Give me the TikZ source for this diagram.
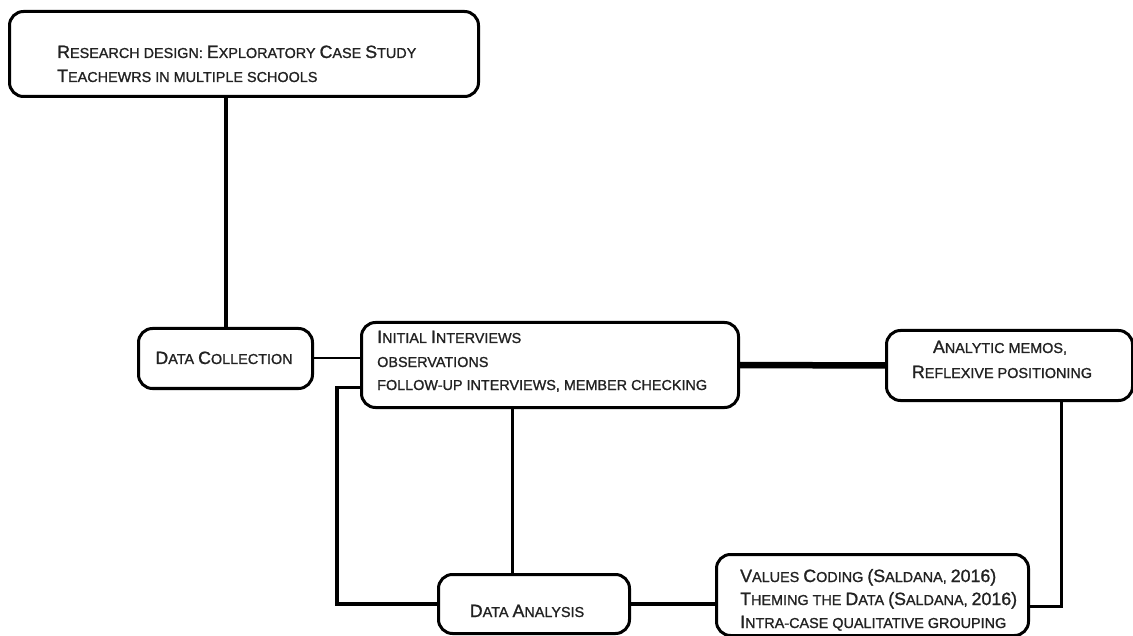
\documentclass[tikz,border=0pt]{standalone}
\usepackage{fontspec}
\setmainfont[RawFeature={embolden=1.2}]{Liberation Sans}
\definecolor{ink}{HTML}{222222}
% fake small caps: capitals at full size, the rest set smaller in upper case
\newcommand\K[1]{{\fontsize{17.8}{20}\selectfont #1}}
\tikzset{
  box/.style={draw=black, line width=3pt, rounded corners=14pt, anchor=north west, inner sep=0pt},
  txt/.style={text=ink, inner sep=0pt, font=\fontsize{14.4}{17}\selectfont},
  link/.style={draw=black, line width=3.2pt},
}
\begin{document}
\begin{tikzpicture}[x=1pt,y=-1pt]
\useasboundingbox (0,0) rectangle (1133,636);

% boxes
\node[box, minimum width=469pt, minimum height=85pt] (top) at (8,10) {};
\node[box, minimum width=174pt, minimum height=60pt] (dc) at (137,327) {};
\node[box, minimum width=377pt, minimum height=85pt] (init) at (360,321) {};
\node[box, minimum width=246pt, minimum height=70pt] (an) at (885,329) {};
\node[box, minimum width=191pt, minimum height=59pt] (da) at (437,573) {};
\node[box, minimum width=312pt, minimum height=81pt] (val) at (715,553) {};

% texts
\node[txt, anchor=base west] (t1) at (57,58) {\K{R}ESEARCH DESIGN: \K{E}XPLORATORY \K{C}ASE \K{S}TUDY};
\node[txt, anchor=base west] (t2) at (57,82) {\K{T}EACHEWRS IN MULTIPLE SCHOOLS};
\node[txt, anchor=base] (dct) at (224,364) {\K{D}ATA \K{C}OLLECTION};
\node[txt, anchor=base west] (i1) at (377,343) {\K{I}NITIAL \K{I}NTERVIEWS};
\node[txt, anchor=base west] (i2) at (377,367) {OBSERVATIONS};
\node[txt, anchor=base west] (i3) at (377,390) {FOLLOW-UP INTERVIEWS, MEMBER CHECKING};
\node[txt, anchor=base] (a1) at (1000,353) {\K{A}NALYTIC MEMOS,};
\node[txt, anchor=base] (a2) at (1002,378) {\K{R}EFLEXIVE POSITIONING};
\node[txt, anchor=base] (dat) at (527,617) {\K{D}ATA \K{A}NALYSIS};
\node[txt, anchor=base west] (v1) at (740,582) {\K{V}ALUES \K{C}ODING \K{(S}ALDANA, \K{2016)}};
\node[txt, anchor=base west] (v2) at (740,605) {\K{T}HEMING THE \K{D}ATA \K{(S}ALDANA, \K{2016)}};
\node[txt, anchor=base west] (v3) at (740,628) {\K{I}NTRA-CASE QUALITATIVE GROUPING};

% connectors
\draw[link, line width=4pt] (dc.north) -- (dc.north |- top.south);
\draw[link, line width=2pt] (dc.east) -- (dc.east -| init.west);
\draw[link, line width=6.5pt] (init.east) -- (an.west);
\draw[link] ([xshift=52pt]an.south) |- ([yshift=-11.5pt]val.east);
\draw[link] ([xshift=-21.5pt]da.north) -- ([xshift=-21.5pt]da.north |- init.south);
\draw[link] (da.east) -- (da.east -| val.west);
\draw[link] ([yshift=-22.5pt]init.west) -- ++(-23,0) |- (da.west);
\end{tikzpicture}
\end{document}
